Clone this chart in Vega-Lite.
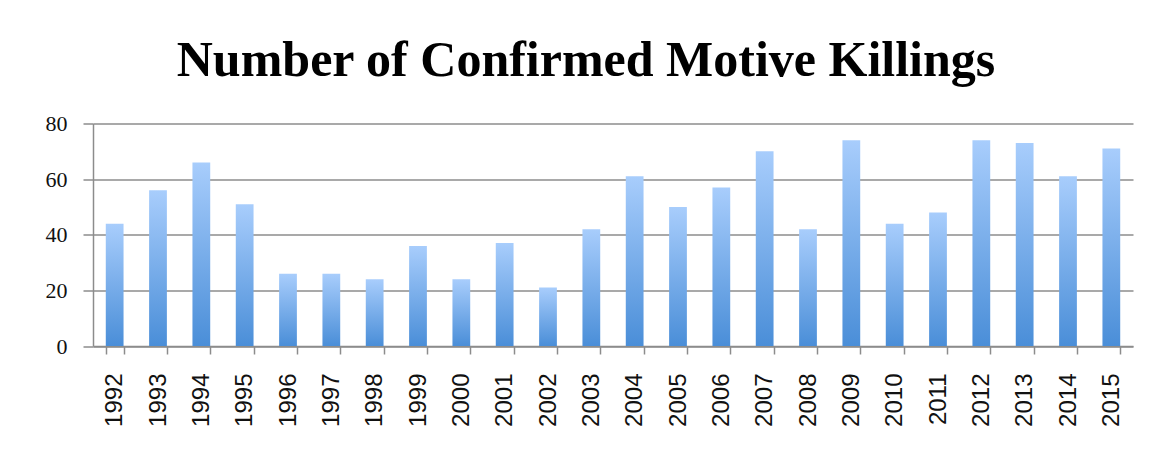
{
  "$schema": "https://vega.github.io/schema/vega-lite/v6.json",
  "autosize": "none",
  "width": 1040,
  "height": 222.5,
  "padding": {"left": 93, "top": 123.5, "right": 16, "bottom": 109},
  "background": "white",
  "title": {
    "text": "Number of Confirmed Motive Killings",
    "font": "Liberation Serif",
    "fontSize": 50,
    "fontWeight": "bold",
    "color": "#000000",
    "anchor": "middle",
    "frame": "group",
    "baseline": "alphabetic",
    "offset": 41,
    "dx": -27,
    "dy": 54
  },
  "data": {
    "values": [
      {"year": "1992", "killings": 44},
      {"year": "1993", "killings": 56},
      {"year": "1994", "killings": 66},
      {"year": "1995", "killings": 51},
      {"year": "1996", "killings": 26},
      {"year": "1997", "killings": 26},
      {"year": "1998", "killings": 24},
      {"year": "1999", "killings": 36},
      {"year": "2000", "killings": 24},
      {"year": "2001", "killings": 37},
      {"year": "2002", "killings": 21},
      {"year": "2003", "killings": 42},
      {"year": "2004", "killings": 61},
      {"year": "2005", "killings": 50},
      {"year": "2006", "killings": 57},
      {"year": "2007", "killings": 70},
      {"year": "2008", "killings": 42},
      {"year": "2009", "killings": 74},
      {"year": "2010", "killings": 44},
      {"year": "2011", "killings": 48},
      {"year": "2012", "killings": 74},
      {"year": "2013", "killings": 73},
      {"year": "2014", "killings": 61},
      {"year": "2015", "killings": 71}
    ]
  },
  "mark": {
    "type": "bar",
    "color": {
      "gradient": "linear",
      "x1": 0, "y1": 0, "x2": 0, "y2": 1,
      "stops": [
        {"offset": 0, "color": "#a8cdfc"},
        {"offset": 1, "color": "#4a8ed8"}
      ]
    }
  },
  "encoding": {
    "x": {
      "field": "year",
      "type": "ordinal",
      "title": null,
      "scale": {"paddingInner": 0.59, "paddingOuter": 0.295},
      "axis": {
        "labelAngle": -90,
        "labelFont": "Liberation Sans",
        "labelFontSize": 24,
        "labelColor": "#111111",
        "labelPadding": 19,
        "tickBand": "extent",
        "tickSize": 8,
        "tickColor": "#8c8c8c",
        "tickWidth": 1.5,
        "domainColor": "#8c8c8c",
        "domainWidth": 1.5
      }
    },
    "y": {
      "field": "killings",
      "type": "quantitative",
      "title": null,
      "scale": {"domain": [0, 80]},
      "axis": {
        "values": [0, 20, 40, 60, 80],
        "labelFont": "Liberation Serif",
        "labelFontSize": 22,
        "labelColor": "#111111",
        "labelPadding": 16,
        "tickSize": 10,
        "tickColor": "#8c8c8c",
        "tickWidth": 1.5,
        "domainColor": "#8c8c8c",
        "domainWidth": 1.5,
        "grid": true,
        "gridColor": "#8c8c8c",
        "gridWidth": 1.5
      }
    }
  },
  "config": {
    "view": {"stroke": null}
  }
}
